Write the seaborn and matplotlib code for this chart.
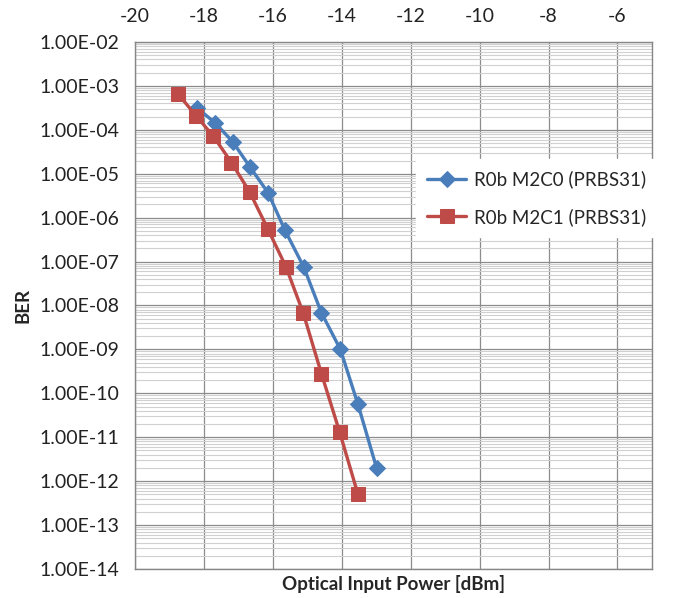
import numpy as np
import pandas as pd
import matplotlib
matplotlib.use("Agg")
import matplotlib.pyplot as plt
import matplotlib.ticker as mticker
import seaborn as sns

# datos
power_m2c0 = [-18.21, -17.68, -17.17, -16.67, -16.14, -15.65, -15.10, -14.59, -14.04, -13.53, -12.99]
ber_m2c0 = [3.2e-4, 1.45e-4, 5.4e-5, 1.45e-5, 3.7e-6, 5.2e-7, 7.4e-8, 6.8e-9, 1.0e-9, 5.6e-11, 2.0e-12]

power_m2c1 = [-18.74, -18.23, -17.73, -17.20, -16.67, -16.14, -15.62, -15.12, -14.59, -14.06, -13.53]
ber_m2c1 = [6.4e-4, 2.1e-4, 7.2e-5, 1.8e-5, 3.8e-6, 5.4e-7, 7.6e-8, 6.8e-9, 2.8e-10, 1.3e-11, 5.0e-13]

label_m2c0 = "R0b M2C0 (PRBS31)"
label_m2c1 = "R0b M2C1 (PRBS31)"
x_ticks = [-20, -18, -16, -14, -12, -10, -8, -6]

sns.set_style("white")
plt.rcParams['font.family'] = ['Lato', 'DejaVu Sans']
plt.rcParams['axes.unicode_minus'] = False

df0 = pd.DataFrame({'power': power_m2c0, 'ber': ber_m2c0})
df1 = pd.DataFrame({'power': power_m2c1, 'ber': ber_m2c1})

fig = plt.figure(figsize=(6.77, 5.98), dpi=100)
ax = fig.add_axes([0.1994, 0.0485, 0.7636, 0.8813])

sns.lineplot(data=df0, x='power', y='ber', ax=ax, color='#4A7EBB', linewidth=2.4,
             marker='D', markersize=8, markeredgecolor='#4A7EBB', label=label_m2c0,
             sort=False, zorder=4)
sns.lineplot(data=df1, x='power', y='ber', ax=ax, color='#BE4B48', linewidth=2.4,
             marker='s', markersize=10, markeredgecolor='#BE4B48', label=label_m2c1,
             sort=False, zorder=5)

ax.set_yscale('log')
ax.set_xlim(-20, -5)
ax.set_ylim(1e-14, 1e-2)

ax.set_xticks(x_ticks)
ax.xaxis.tick_top()
ax.tick_params(axis='x', which='both', length=0, labelsize=14, pad=12, colors='#222222')
ax.set_yticks([10.0 ** k for k in range(-14, -1)])
ax.yaxis.set_major_formatter(mticker.FuncFormatter(lambda v, p: f"{v:.2E}"))
ax.yaxis.set_minor_locator(mticker.LogLocator(base=10, subs=np.arange(2, 10), numticks=100))
ax.yaxis.set_minor_formatter(mticker.NullFormatter())
ax.tick_params(axis='y', which='major', length=5, width=0.8, color='#868686',
               direction='out', labelsize=14, pad=6, labelcolor='#222222')
ax.tick_params(axis='y', which='minor', length=0)

ax.grid(True, which='major', axis='both', color='#8c8c8c', linewidth=0.9)
ax.grid(True, which='minor', axis='y', color='#d0d0d0', linewidth=0.8)
ax.set_axisbelow(True)

for s in ax.spines.values():
    s.set_color('#868686')
    s.set_linewidth(1.0)

ax.set_xlabel('Optical Input Power [dBm]', fontsize=13.5, fontweight='bold', labelpad=4)
ax.xaxis.set_label_position('bottom')
ax.set_ylabel('BER', fontsize=13.5, fontweight='bold', labelpad=6)

leg = ax.legend(loc='upper left', bbox_to_anchor=(0.543, 0.778), frameon=True,
                fontsize=13.5, handlelength=2.1, borderpad=0.6, labelspacing=1.05,
                handletextpad=0.4, borderaxespad=0, fancybox=False)
leg.get_frame().set_edgecolor('white')
leg.get_frame().set_facecolor('white')
leg.get_frame().set_alpha(1.0)

fig.savefig('out.png', dpi=100)
